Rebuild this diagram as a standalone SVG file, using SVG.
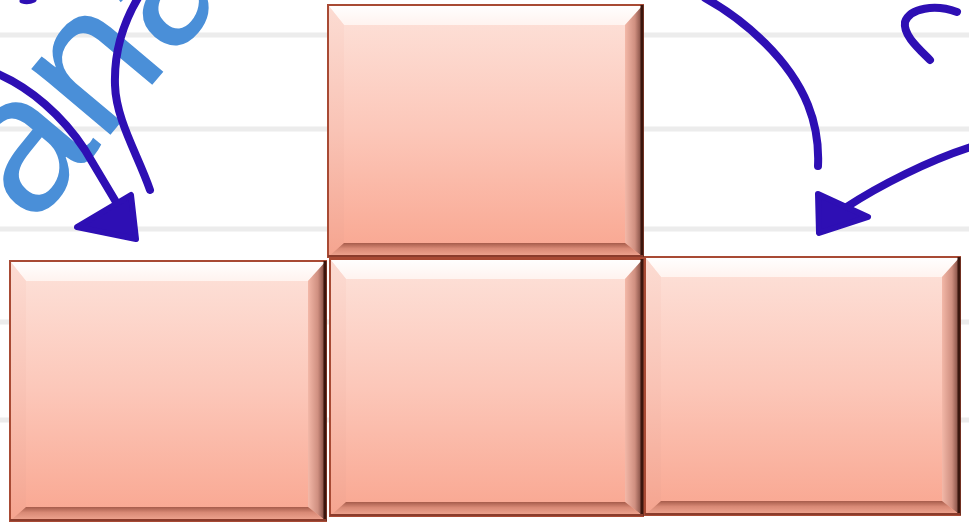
<svg xmlns="http://www.w3.org/2000/svg" width="969" height="528" viewBox="0 0 969 528">
  <defs>
    <linearGradient id="face" x1="0" y1="0" x2="0" y2="1">
      <stop offset="0" stop-color="#fde2da"/>
      <stop offset="0.5" stop-color="#fcc7b9"/>
      <stop offset="1" stop-color="#f9a690"/>
    </linearGradient>
    <linearGradient id="topb" x1="0" y1="0" x2="0" y2="1">
      <stop offset="0" stop-color="#ffffff"/>
      <stop offset="1" stop-color="#fff3ef"/>
    </linearGradient>
    <linearGradient id="leftb" x1="0" y1="0" x2="0" y2="1">
      <stop offset="0" stop-color="#fcdcd3"/>
      <stop offset="0.5" stop-color="#f9c3b5"/>
      <stop offset="1" stop-color="#f5a48f"/>
    </linearGradient>
    <linearGradient id="rightb" x1="0" y1="0" x2="1" y2="0">
      <stop offset="0" stop-color="#f3b8a8"/>
      <stop offset="0.55" stop-color="#cf8f80"/>
      <stop offset="1" stop-color="#6e3c33"/>
    </linearGradient>
    <linearGradient id="bottomb" x1="0" y1="0" x2="0" y2="1">
      <stop offset="0" stop-color="#a65c4b"/>
      <stop offset="0.4" stop-color="#d98a76"/>
      <stop offset="1" stop-color="#f2a893"/>
    </linearGradient>
  </defs>
  <style>
    .rule { stroke: #ececec; stroke-width: 5; }
    .wm { font-family: "Liberation Sans", Arial, sans-serif; font-size: 195px; fill: #4a8fd8; }
    .face { fill: url(#face); }
    .tb { fill: url(#topb); }
    .lb { fill: url(#leftb); }
    .rb { fill: url(#rightb); }
    .bb { fill: url(#bottomb); }
    .edge { fill: none; stroke: #a84a34; stroke-width: 2; }
    .redge { stroke: #3b160e; stroke-width: 3; }
    .bedge { stroke: #8a3c2c; stroke-width: 2; }
    .ink { fill: none; stroke: #2e0fb4; stroke-width: 8; stroke-linecap: round; stroke-linejoin: round; }
    .head { fill: #2e0fb4; stroke: #2e0fb4; stroke-width: 6; stroke-linejoin: round; }
  </style>
  <rect width="969" height="528" fill="#ffffff"/>
  <g id="background">
    <line class="rule" x1="0" y1="35" x2="969" y2="35"/>
    <line class="rule" x1="0" y1="129" x2="969" y2="129"/>
    <line class="rule" x1="0" y1="229" x2="969" y2="229"/>
    <line class="rule" x1="0" y1="322" x2="969" y2="322"/>
    <line class="rule" x1="0" y1="420" x2="969" y2="420"/>
    <text class="wm" x="0" y="0" transform="translate(32,228) rotate(-50)">ana</text>
  </g>
  <g id="box-top">
    <rect class="face" x="328" y="5" width="315" height="252"/>
    <polygon class="tb" points="328,5 643,5 625,25 344,25"/>
    <polygon class="lb" points="328,5 344,25 344,243 328,257"/>
    <polygon class="rb" points="643,5 643,257 625,243 625,25"/>
    <polygon class="bb" points="328,257 643,257 625,243 344,243"/>
    <rect class="edge" x="328" y="5" width="315" height="252"/>
    <line class="redge" x1="642" y1="5" x2="642" y2="257"/>
    <line class="bedge" x1="328" y1="256" x2="643" y2="256"/>
  </g>
  <g id="box-left">
    <rect class="face" x="10" y="261" width="316" height="260"/>
    <polygon class="tb" points="10,261 326,261 308,281 26,281"/>
    <polygon class="lb" points="10,261 26,281 26,507 10,521"/>
    <polygon class="rb" points="326,261 326,521 308,507 308,281"/>
    <polygon class="bb" points="10,521 326,521 308,507 26,507"/>
    <rect class="edge" x="10" y="261" width="316" height="260"/>
    <line class="redge" x1="325" y1="261" x2="325" y2="521"/>
    <line class="bedge" x1="10" y1="520" x2="326" y2="520"/>
  </g>
  <g id="box-mid">
    <rect class="face" x="330" y="259" width="313" height="257"/>
    <polygon class="tb" points="330,259 643,259 625,279 346,279"/>
    <polygon class="lb" points="330,259 346,279 346,502 330,516"/>
    <polygon class="rb" points="643,259 643,516 625,502 625,279"/>
    <polygon class="bb" points="330,516 643,516 625,502 346,502"/>
    <rect class="edge" x="330" y="259" width="313" height="257"/>
    <line class="redge" x1="642" y1="259" x2="642" y2="516"/>
    <line class="bedge" x1="330" y1="515" x2="643" y2="515"/>
  </g>
  <g id="box-right">
    <rect class="face" x="645" y="257" width="315" height="258"/>
    <polygon class="tb" points="645,257 960,257 942,277 661,277"/>
    <polygon class="lb" points="645,257 661,277 661,501 645,515"/>
    <polygon class="rb" points="960,257 960,515 942,501 942,277"/>
    <polygon class="bb" points="645,515 960,515 942,501 661,501"/>
    <rect class="edge" x="645" y="257" width="315" height="258"/>
    <line class="redge" x1="959" y1="257" x2="959" y2="515"/>
    <line class="bedge" x1="645" y1="514" x2="960" y2="514"/>
  </g>
  <g id="connectors">
    <path class="ink" d="M-2,74 C30,88 62,115 85,150 C100,175 112,195 122,212"/>
    <polygon class="head" points="77,227 131,195 136,239"/>
    <path class="ink" d="M138,-2 C122,25 114,55 115,85 C116,120 138,155 150,190"/>
    <path class="ink" d="M705,-2 C745,20 790,60 808,105 C816,125 819,145 818,166"/>
    <path class="ink" d="M971,147 C930,160 880,185 845,208"/>
    <polygon class="head" points="818,194 868,217 819,233"/>
    <path class="ink" d="M957,12 C935,4 910,8 905,22 C903,35 918,48 930,60"/>
    <path class="ink" d="M22,1 Q28,3 34,0" style="stroke-width:5"/>
  </g>
</svg>
